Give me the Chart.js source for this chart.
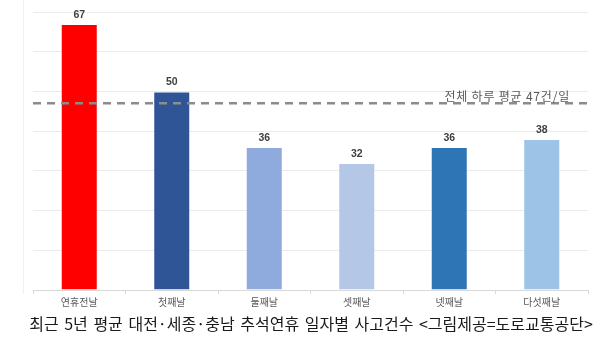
<!DOCTYPE html>
<html>
<head>
<meta charset="utf-8">
<script src="https://cdn.jsdelivr.net/npm/chart.js@4.4.0/dist/chart.umd.min.js"></script>
<style>
  html, body { margin: 0; padding: 0; background: #fff; }
  #wrap { position: relative; width: 600px; height: 352px; }
  #caption {
    position: absolute; left: 0; top: 312px; width: 622px; text-align: center;
    font: 16px "Noto Sans CJK KR", "Noto Sans", sans-serif; line-height: 22px;
    color: #1a1a1a; word-spacing: 2px; white-space: nowrap;
  }
</style>
</head>
<body>
<div id="wrap">
  <canvas id="chart" width="600" height="352"></canvas>
  <div id="caption"></div>
</div>
<script>
// data
const categories = ['연휴전날', '첫째날', '둘째날', '셋째날', '넷째날', '다섯째날'];
const accidents = [67, 50, 36, 32, 36, 38];
const barColors = ['#ff0000', '#2f5597', '#8faadc', '#b4c7e7', '#2e75b6', '#9dc3e6'];
const dailyAverage = 47;
const averageLabel = '전체 하루 평균 47건/일';
const caption = '최근 5년 평균 대전·세종·충남 추석연휴 일자별 사고건수 <그림제공=도로교통공단>';

const KR_FONT = '"Noto Sans CJK KR", "Noto Sans", sans-serif';

document.getElementById('caption').textContent = caption;

// faint frame line on the left, like the pasted image border
const framePlugin = {
    id: 'frame',
    beforeDraw(chart) {
        const { ctx, chartArea: { bottom, left } } = chart;
        ctx.save();
        ctx.strokeStyle = '#f0f0f0';
        ctx.lineWidth = 1;
        ctx.beginPath();
        ctx.moveTo(left - 9.5, 0);
        ctx.lineTo(left - 9.5, bottom + 4);
        ctx.stroke();
        ctx.restore();
    }
};

// dashed average line + its label
const averagePlugin = {
    id: 'average',
    afterDatasetsDraw(chart) {
        const { ctx, chartArea: { left, right }, scales: { y } } = chart;
        const py = y.getPixelForValue(dailyAverage);
        ctx.save();
        ctx.strokeStyle = '#8c8c8c';
        ctx.lineWidth = 2.5;
        ctx.setLineDash([8, 6]);
        ctx.beginPath();
        ctx.moveTo(left, py);
        ctx.lineTo(right, py);
        ctx.stroke();
        ctx.setLineDash([]);
        ctx.fillStyle = '#595959';
        ctx.font = '12px ' + KR_FONT;
        ctx.letterSpacing = '0.8px';
        ctx.textAlign = 'right';
        ctx.textBaseline = 'bottom';
        ctx.fillText(averageLabel, right - 18, py - 1);
        ctx.restore();
    }
};

// value labels above bars
const valueLabelPlugin = {
    id: 'valueLabels',
    afterDatasetsDraw(chart) {
        const { ctx } = chart;
        const meta = chart.getDatasetMeta(0);
        ctx.save();
        ctx.fillStyle = '#404040';
        ctx.font = 'bold 10.5px "Liberation Sans", Arial, sans-serif';
        ctx.textAlign = 'center';
        ctx.textBaseline = 'bottom';
        meta.data.forEach((bar, i) => {
            ctx.fillText(accidents[i], bar.x, bar.y - 4);
        });
        ctx.restore();
    }
};

new Chart(document.getElementById('chart').getContext('2d'), {
    type: 'bar',
    data: {
        labels: categories,
        datasets: [{
            data: accidents,
            backgroundColor: barColors,
            borderColor: 'rgba(255,255,255,0.35)',
            borderWidth: 1,
            categoryPercentage: 1,
            barPercentage: 0.4
        }]
    },
    options: {
        responsive: false,
        animation: false,
        layout: { padding: { left: 33, right: 12, top: 12, bottom: 42 } },
        scales: {
            y: {
                min: 0,
                max: 70,
                ticks: { display: false, stepSize: 10 },
                grid: { color: '#ebebeb', drawTicks: false },
                border: { display: false }
            },
            x: {
                grid: { drawOnChartArea: false, color: '#d9d9d9', tickLength: 4 },
                border: { color: '#d9d9d9' },
                ticks: {
                    color: '#595959',
                    font: { size: 10, family: KR_FONT },
                    padding: 2
                }
            }
        },
        plugins: {
            legend: { display: false },
            tooltip: { enabled: false },
            title: { display: false }
        }
    },
    plugins: [framePlugin, averagePlugin, valueLabelPlugin]
});
</script>
</body>
</html>
